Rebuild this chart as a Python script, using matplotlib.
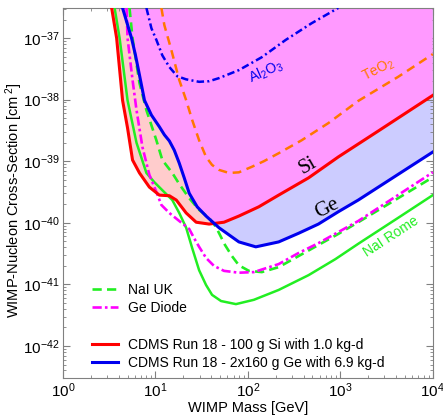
import numpy as np
import matplotlib
matplotlib.use("Agg")
import matplotlib.pyplot as plt
from matplotlib.lines import Line2D

plt.rcParams['font.family'] = ['Liberation Sans', 'DejaVu Sans']
plt.rcParams['mathtext.fontset'] = 'custom'
plt.rcParams['mathtext.rm'] = 'Liberation Sans'
plt.rcParams['mathtext.it'] = 'Liberation Sans:italic'

# limits (log10 units)
ytop = 10**-36.51
ybot = 10**-42.52

# curves: log10(mass / GeV), log10(sigma / cm^2)
si_logm = [0.527, 0.581, 0.645, 0.699, 0.753, 0.828, 0.935, 1.043, 1.151, 1.226, 1.333,
           1.441, 1.581, 1.742, 1.903, 2.118, 2.333, 2.656, 2.978, 3.409, 4.0]
si_logs = [-36.51, -37.0, -38.01, -38.46, -38.98, -39.19, -39.42, -39.55, -39.56, -39.63, -39.84,
           -39.99, -40.02, -39.99, -39.89, -39.74, -39.55, -39.27, -38.93, -38.51, -37.93]

ge_logm = [0.645, 0.742, 0.785, 0.828, 0.882, 0.957, 1.043, 1.097, 1.151, 1.204, 1.258, 1.312,
           1.366, 1.452, 1.548, 1.688, 1.903, 2.086, 2.333, 2.548, 2.763, 2.978, 3.194, 4.0]
ge_logs = [-36.51, -37.0, -37.28, -37.60, -38.01, -38.25, -38.44, -38.57, -38.67, -38.82, -39.03, -39.27,
           -39.52, -39.74, -39.89, -40.08, -40.31, -40.39, -40.31, -40.17, -40.02, -39.82, -39.63, -38.85]

nauk_logm = [0.720, 0.753, 0.828, 0.903, 1.011, 1.075, 1.183, 1.258, 1.366, 1.473, 1.581, 1.656,
             1.753, 1.828, 1.903, 2.011, 2.151, 2.333, 2.548, 2.763, 2.978, 3.194, 4.0]
nauk_logs = [-36.51, -37.0, -37.73, -38.17, -38.66, -38.98, -39.19, -39.37, -39.60, -39.79, -39.92, -40.07,
             -40.36, -40.54, -40.69, -40.78, -40.80, -40.72, -40.54, -40.36, -40.18, -39.99, -39.26]

gediode_logm = [0.688, 0.699, 0.753, 0.796, 0.860, 0.935, 1.011, 1.065, 1.151, 1.258, 1.366, 1.419,
                1.473, 1.548, 1.634, 1.742, 1.903, 2.065, 2.333, 2.548, 2.763, 2.978, 3.194, 4.0]
gediode_logs = [-36.51, -37.0, -37.68, -38.17, -38.77, -39.22, -39.50, -39.71, -39.84, -39.97, -40.10, -40.25,
                -40.39, -40.57, -40.70, -40.78, -40.81, -40.80, -40.67, -40.49, -40.33, -40.15, -39.97, -39.18]

narome_logm = [0.559, 0.613, 0.699, 0.796, 0.903, 0.989, 1.075, 1.183, 1.258, 1.333, 1.398, 1.473,
               1.548, 1.613, 1.710, 1.871, 2.065, 2.333, 2.656, 2.946, 3.194, 3.624, 4.0]
narome_logs = [-36.51, -37.0, -38.01, -38.70, -39.19, -39.34, -39.47, -39.63, -39.84, -40.08, -40.41, -40.77,
               -41.01, -41.17, -41.27, -41.32, -41.25, -41.09, -40.85, -40.59, -40.34, -39.92, -39.55]

teo2_logm = [1.065, 1.097, 1.172, 1.258, 1.333, 1.398, 1.473, 1.548, 1.613, 1.688, 1.796, 1.903,
             2.043, 2.172, 2.333, 2.581, 2.871, 3.194, 3.624, 4.0]
teo2_logs = [-36.51, -36.79, -37.19, -37.68, -38.01, -38.33, -38.66, -38.93, -39.06, -39.14, -39.19, -39.18,
             -39.09, -39.0, -38.87, -38.66, -38.38, -38.02, -37.63, -37.26]

al2o3_logm = [0.903, 0.957, 1.011, 1.075, 1.151, 1.237, 1.333, 1.473, 1.581, 1.688, 1.903, 2.151,
              2.409, 2.688, 2.978]
al2o3_logs = [-36.51, -36.84, -37.03, -37.28, -37.47, -37.62, -37.67, -37.71, -37.70, -37.65, -37.52, -37.31,
              -37.03, -36.76, -36.51]


def lin(a):
    return 10**np.asarray(a)


fig = plt.figure(figsize=(4.43, 4.17), dpi=100)
ax = fig.add_axes([0.142, 0.0935, 0.835, 0.8875])
ax.set_xscale('log')
ax.set_yscale('log')

si_m, si_s = lin(si_logm), lin(si_logs)
ge_m, ge_s = lin(ge_logm), lin(ge_logs)

# filled regions: above Si only -> pink, above Ge only -> lavender, above both -> magenta
si_patch = ax.fill(np.r_[si_m, 1e4, si_m[0]], np.r_[si_s, ytop, ytop],
                   color='#ffcccc', lw=0, zorder=1)[0]
ax.fill(np.r_[ge_m, 1e4, ge_m[0]], np.r_[ge_s, ytop, ytop],
        color='#ccccff', lw=0, zorder=1)
both = ax.fill(np.r_[ge_m, 1e4, ge_m[0]], np.r_[ge_s, ytop, ytop],
               color='#ff99ff', lw=0, zorder=2)[0]
both.set_clip_path(si_patch)

ax.plot(lin(al2o3_logm), lin(al2o3_logs), color='#0000ee', lw=1.8,
        dashes=(3, 1.3, 0.8, 1.3), zorder=3)
ax.plot(lin(teo2_logm), lin(teo2_logs), color='#ff7700', lw=1.8,
        dashes=(3.5, 2.3), zorder=3)
ax.plot(lin(narome_logm), lin(narome_logs), color='#22ee22', lw=1.8, zorder=3)
l_uk, = ax.plot(lin(nauk_logm), lin(nauk_logs), color='#22ee22', lw=1.9,
                dashes=(3.5, 2), zorder=3, label='NaI UK')
l_gd, = ax.plot(lin(gediode_logm), lin(gediode_logs), color='#ff00ff', lw=1.9,
                dashes=(3.5, 1.2, 1, 1.2), zorder=3, label='Ge Diode')
l_si, = ax.plot(si_m, si_s, color='#ff0000', lw=2.2, zorder=4,
                label='CDMS Run 18 - 100 g Si with 1.0 kg-d')
l_ge, = ax.plot(ge_m, ge_s, color='#0000ee', lw=2.2, zorder=4,
                label='CDMS Run 18 - 2x160 g Ge with 6.9 kg-d')

# curve labels
ax.text(156, 10**-37.55, 'Al$_2$O$_3$', color='#0000ee', fontsize=10, rotation=24,
        ha='center', va='center')
ax.text(2560, 10**-37.52, 'TeO$_2$', color='#ff7700', fontsize=10, rotation=27,
        ha='center', va='center')
ax.text(445, 10**-39.07, 'Si', color='black', fontsize=15, rotation=30,
        ha='center', va='center', family='Liberation Serif')
ax.text(720, 10**-39.76, 'Ge', color='black', fontsize=15, rotation=27,
        ha='center', va='center', family='Liberation Serif')
ax.text(3530, 10**-40.23, 'NaI Rome', color='#22ee22', fontsize=10, rotation=33,
        ha='center', va='center')

blank = Line2D([], [], color='none')
ax.legend([l_uk, l_gd, blank, l_si, l_ge],
          [l_uk.get_label(), l_gd.get_label(), '', l_si.get_label(), l_ge.get_label()],
          loc='lower left', bbox_to_anchor=(0.055, 0.0), frameon=False, fontsize=10,
          handlelength=1.9, handletextpad=0.7, labelspacing=0.3, borderaxespad=0.2)

ax.set_xlim(1, 1e4)
ax.set_ylim(ybot, ytop)
ax.set_xlabel('WIMP Mass [GeV]', fontsize=10.5)
ax.set_ylabel('WIMP-Nucleon Cross-Section [cm$^{\\ 2}$]', fontsize=10.5)
ax.xaxis.set_label_coords(0.5, -0.063)
ax.yaxis.set_label_coords(-0.103, 0.48)

for s in ax.spines.values():
    s.set_color('#808080')
ax.tick_params(which='both', direction='in', top=True, right=True, color='#808080',
               labelsize=11, pad=2.5)
ax.tick_params(which='major', length=5)
ax.tick_params(which='minor', length=2.5)

fig.savefig('out.png', dpi=100)
